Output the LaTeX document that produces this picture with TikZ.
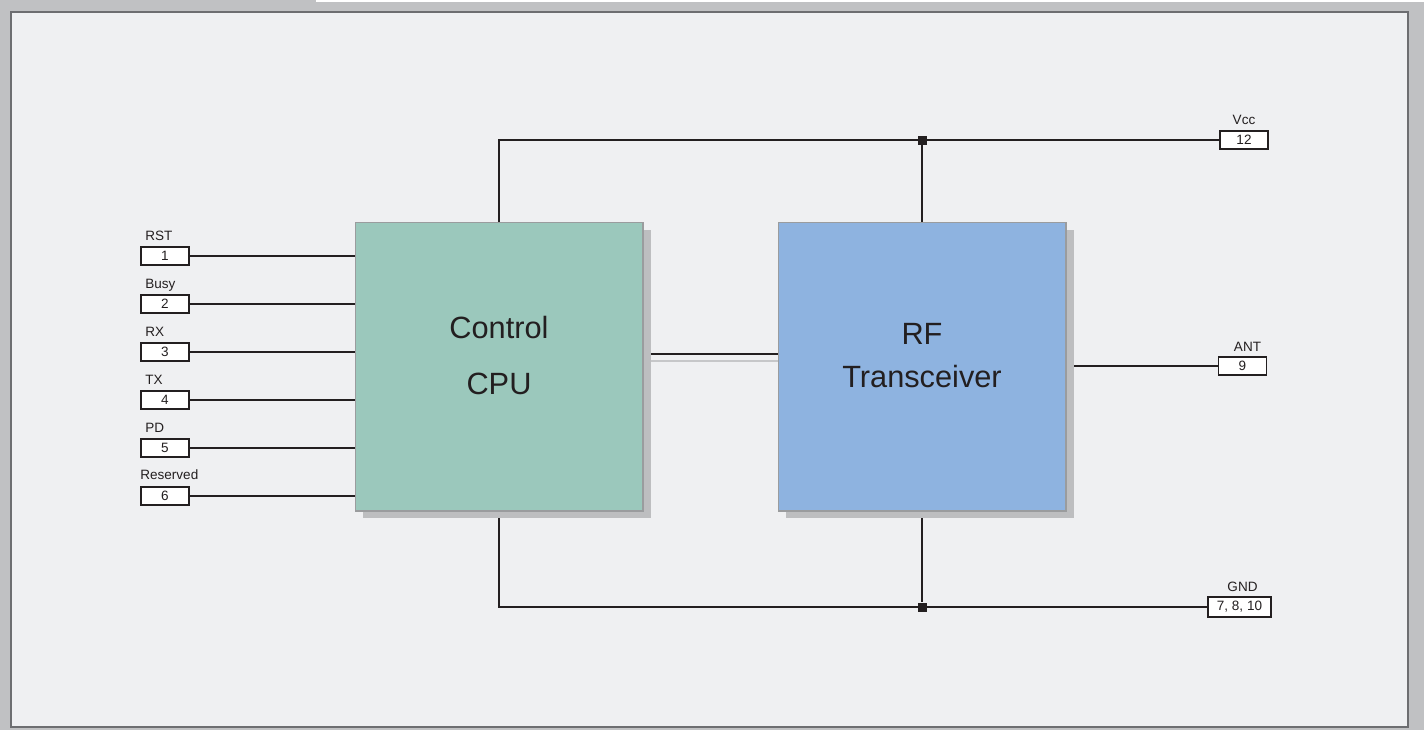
\documentclass[tikz,border=0pt]{standalone}
\usepackage{fontspec}
\setmainfont{Liberation Sans}
\usetikzlibrary{positioning,shadows,calc}
\definecolor{bggray}{HTML}{C0C1C3}
\definecolor{panelfill}{HTML}{EFF0F2}
\definecolor{panelline}{HTML}{6D6E71}
\definecolor{cpufill}{HTML}{9BC8BC}
\definecolor{rffill}{HTML}{8EB3E0}
\definecolor{shade}{HTML}{BDBEC0}
\definecolor{blockline}{HTML}{9A9C9E}
\definecolor{wirecol}{HTML}{231F20}
\definecolor{wireshade}{HTML}{C6C7C9}
\pgfdeclarelayer{panel}
\pgfdeclarelayer{wires}
\pgfsetlayers{panel,wires,main}
\tikzset{
block/.style = {draw=blockline, line width=0.6pt, minimum width=5.76cm, minimum height=5.78cm,
  drop shadow={shadow xshift=0.16cm, shadow yshift=-0.15cm, fill=shade, opacity=1}},
pinbox/.style = {draw=wirecol, fill=white, line width=1.1pt, minimum width=0.96cm, minimum height=0.36cm,
  inner sep=0pt, font=\fontsize{7.7}{9}\selectfont, text=wirecol},
pinlbl/.style = {font=\fontsize{7.7}{9}\selectfont, inner sep=0pt, text=wirecol},
bigtxt/.style = {font=\fontsize{17.5}{21}\selectfont, anchor=base, inner sep=0pt, text=wirecol},
wire/.style = {draw=wirecol, line width=1.1pt},
joint/.style = {fill=wirecol, minimum size=0.18cm, inner sep=0pt}
}

\begin{document}
\begin{tikzpicture}[x=0.02cm, y=-0.02cm]
    \useasboundingbox (0,0) rectangle (1424,730);
    % panel
    \begin{pgfonlayer}{panel}
    \fill [bggray] (0,0) rectangle (1424,730);
    \fill [white] (316,0) rectangle (1424,2);
    \draw [panelline, fill=panelfill, line width=0.8pt] (11,12) rectangle (1408,727);
    \end{pgfonlayer}
    % blocks
    \node [block, fill=cpufill] (cpu) at (499,366.5) {};
    \node [block, fill=rffill] (rf) at (922,366.5) {};
    \node [bigtxt] at (499,338) {Control};
    \node [bigtxt] at (499,394) {CPU};
    \node [bigtxt] at (922,344) {RF};
    \node [bigtxt] at (922,387) {Transceiver};
    % left pins
    \node [pinbox, label={[pinlbl, anchor=base west, xshift=0.1cm, yshift=0.12cm]north west:RST}] (p1) at (165,256) {1};
    \node [pinbox, below of=p1, node distance=0.96cm, label={[pinlbl, anchor=base west, xshift=0.1cm, yshift=0.12cm]north west:Busy}] (p2) {2};
    \node [pinbox, below of=p2, node distance=0.96cm, label={[pinlbl, anchor=base west, xshift=0.1cm, yshift=0.12cm]north west:RX}] (p3) {3};
    \node [pinbox, below of=p3, node distance=0.96cm, label={[pinlbl, anchor=base west, xshift=0.1cm, yshift=0.12cm]north west:TX}] (p4) {4};
    \node [pinbox, below of=p4, node distance=0.96cm, label={[pinlbl, anchor=base west, xshift=0.1cm, yshift=0.12cm]north west:PD}] (p5) {5};
    \node [pinbox, below of=p5, node distance=0.96cm, label={[pinlbl, anchor=base west, yshift=0.12cm]north west:Reserved}] (p6) {6};
    % right pins
    \node [pinbox, label={[pinlbl, anchor=base, yshift=0.12cm]north:Vcc}] (vcc) at (1244,140) {12};
    \node [pinbox, label={[pinlbl, anchor=base, xshift=0.1cm, yshift=0.09cm]north:ANT}] (ant) at (1242.5,366) {9};
    \node [pinbox, minimum width=1.26cm, minimum height=0.4cm, label={[pinlbl, anchor=base, xshift=0.06cm, yshift=0.09cm]north:GND}] (gnd) at (1239.5,607) {7, 8, 10};
    \node [joint] (jv) at (rf.north |- vcc.west) {};
    \node [joint] (jg) at (rf.south |- gnd.west) {};
    % connectors
    \begin{pgfonlayer}{wires}
    \draw [wire] (p1) -- (p1 -| cpu.west);
    \draw [wire] (p2) -- (p2 -| cpu.west);
    \draw [wire] (p3) -- (p3 -| cpu.west);
    \draw [wire] (p4) -- (p4 -| cpu.west);
    \draw [wire] (p5) -- (p5 -| cpu.west);
    \draw [wire] (p6) -- (p6 -| cpu.west);
    \draw [wire] (cpu.north) |- (vcc.west);
    \draw [wire] (rf.north) -- (jv);
    \draw [wire] (cpu.south) |- (gnd.west);
    \draw [wire] (rf.south) -- (jg);
    \draw [wire] (ant.west -| rf.east) -- (ant.west);
    \draw [wireshade, line width=1.1pt] ([yshift=0.11cm]cpu.east) -- ([yshift=0.11cm]rf.west);
    \draw [wire] ([yshift=0.25cm]cpu.east) -- ([yshift=0.25cm]rf.west);
    \end{pgfonlayer}
\end{tikzpicture}
\end{document}
